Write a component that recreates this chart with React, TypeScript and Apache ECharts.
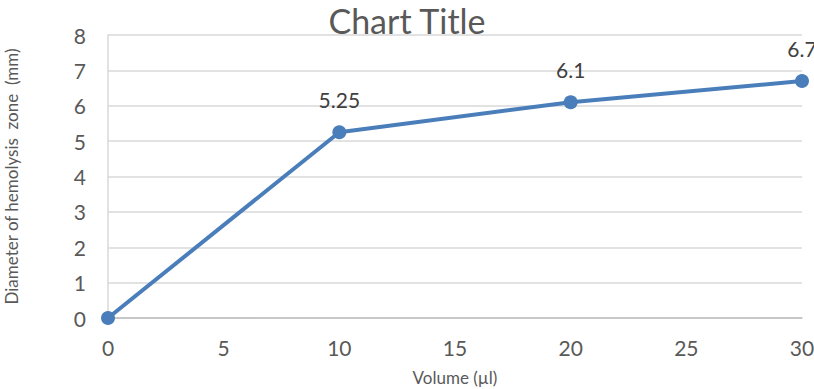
import React, { useEffect, useRef } from "react";
import * as echarts from "echarts";

// Volume of sample (µl) and the matching hemolysis zone diameter (mm)
const volumes = [0, 10, 20, 30];
const diameters = [0, 5.25, 6.1, 6.7];
// Only the non-zero points carry a value label
const showLabel = [false, true, true, true];

const titleText = "Chart Title";
const xAxisName = "Volume (µl)";
const yAxisName = "Diameter of hemolysis  zone  (mm)";

const FONT = "Lato, 'Open Sans', sans-serif";
const LINE_COLOR = "#4a7ebb";

export default function App() {
  const ref = useRef<HTMLDivElement>(null);

  useEffect(() => {
    document.body.style.margin = "0";
    if (!ref.current) return;
    const chart = echarts.init(ref.current, undefined, { renderer: "svg" });

    const data = volumes.map((v, i) => ({
      value: [v, diameters[i]],
      label: { show: showLabel[i] },
    }));

    chart.setOption({
      animation: false,
      backgroundColor: "#ffffff",
      title: {
        text: titleText,
        left: "center",
        top: -2,
        textStyle: {
          fontFamily: FONT,
          fontSize: 34,
          fontWeight: "normal",
          color: "#595959",
        },
      },
      grid: {
        left: 108,
        right: 12,
        top: 35,
        bottom: 71,
        containLabel: false,
        outerBoundsMode: "none",
      },
      xAxis: {
        type: "value",
        min: 0,
        max: 30,
        interval: 5,
        name: xAxisName,
        nameLocation: "middle",
        nameGap: 51,
        nameTextStyle: { fontFamily: FONT, fontSize: 17, color: "#595959" },
        axisLine: { show: true, lineStyle: { color: "#bfbfbf", width: 1.5 } },
        axisTick: { show: false },
        axisLabel: {
          fontFamily: FONT,
          fontSize: 21,
          color: "#595959",
          margin: 19,
        },
        splitLine: { show: false },
      },
      yAxis: {
        type: "value",
        min: 0,
        max: 8,
        interval: 1,
        name: yAxisName,
        nameLocation: "middle",
        nameGap: 88,
        nameTextStyle: { fontFamily: FONT, fontSize: 17, color: "#595959" },
        axisLine: { show: true, lineStyle: { color: "#d9d9d9", width: 1.5 } },
        axisTick: { show: false },
        axisLabel: {
          fontFamily: FONT,
          fontSize: 21,
          color: "#595959",
          margin: 22,
        },
        splitLine: { show: true, lineStyle: { color: "#d9d9d9", width: 1.5 } },
      },
      series: [
        {
          type: "line",
          data,
          symbol: "circle",
          symbolSize: 14,
          lineStyle: { color: LINE_COLOR, width: 4 },
          itemStyle: { color: LINE_COLOR },
          label: {
            position: "top",
            distance: 15,
            fontFamily: FONT,
            fontSize: 21,
            color: "#404040",
            formatter: (p: any) => String(p.value[1]),
          },
          clip: false,
        },
      ],
    });

    return () => chart.dispose();
  }, []);

  return <div ref={ref} style={{ width: 814, height: 389 }} />;
}
